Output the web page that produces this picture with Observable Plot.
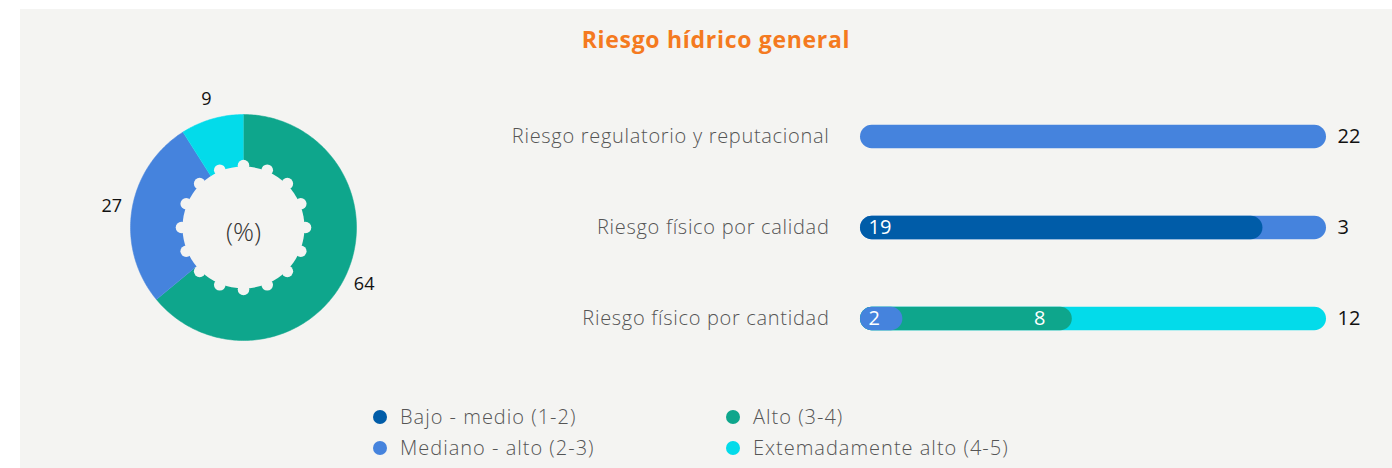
<!DOCTYPE html>
<html>
<head>
<meta charset="utf-8">
<script src="https://cdn.jsdelivr.net/npm/d3@7"></script>
<script src="https://cdn.jsdelivr.net/npm/@observablehq/plot@0.6"></script>
<style>
  body { margin: 0; background: #ffffff; }
  #wrap { position: relative; width: 1392px; height: 468px; overflow: hidden; font-family: "Open Sans", sans-serif; }
  #panel { position: absolute; left: 20px; top: 9px; width: 1372px; height: 459px; background: #f4f4f2; }
  #title { position: absolute; left: 40px; width: 1352px; top: 28px; text-align: center; font-size: 23px; font-weight: 700; letter-spacing: 0.7px; color: #f47a20; line-height: 1; }
  #donut { position: absolute; left: 72.5px; top: 77px; }
  #bars { position: absolute; left: 0; top: 0; }
  .lg { position: absolute; font-size: 20px; font-weight: 300; color: #555; line-height: 1; white-space: nowrap; letter-spacing: 1px; }
  .lg span { position: absolute; width: 14px; height: 14px; border-radius: 50%; left: -27px; top: 2.7px; }
</style>
</head>
<body>
<div id="wrap">
  <div id="panel"></div>
  <div id="title">Riesgo hídrico general</div>
  <div id="donut"></div>
  <div id="bars"></div>
  <div id="legend"></div>
</div>
<script>
// Risk levels and their colours
const levels = ["Bajo - medio (1-2)", "Mediano - alto (2-3)", "Alto (3-4)", "Extemadamente alto (4-5)"];
const levelColors = ["#005ca8", "#4583dd", "#0ea68c", "#03dbea"];

// Overall water-risk distribution (%)
const donutLevels = ["Alto (3-4)", "Mediano - alto (2-3)", "Extemadamente alto (4-5)"];
const donutShares = [64, 27, 9];

// Risk categories and their stacked segments
const risks = ["Riesgo regulatorio y reputacional", "Riesgo físico por calidad", "Riesgo físico por cantidad"];
const segRisk = [risks[0], risks[1], risks[1], risks[2], risks[2], risks[2]];
const segLevel = ["Mediano - alto (2-3)", "Bajo - medio (1-2)", "Mediano - alto (2-3)", "Mediano - alto (2-3)", "Alto (3-4)", "Extemadamente alto (4-5)"];
const segValue = [22, 19, 3, 2, 8, 12];

const bg = "#f4f4f2";
const font = "'Open Sans', sans-serif";
const color = {domain: levels, range: levelColors};

// ---------- donut ----------
const R = 113; // outer radius in px
const W = 340, H = 300;
const pie = d3.pie().sort(null).value(d => d.value)(donutLevels.map((level, i) => ({level, value: donutShares[i]})));
const slicePts = [];
for (const a of pie) {
  slicePts.push({level: a.data.level, x: 0, y: 0});
  const n = Math.max(2, Math.ceil((a.endAngle - a.startAngle) / (Math.PI / 180)));
  for (let k = 0; k <= n; k++) {
    const t = a.startAngle + (a.endAngle - a.startAngle) * k / n;
    slicePts.push({level: a.data.level, x: Math.sin(t), y: Math.cos(t)});
  }
}
// value labels sit just outside the ring, at each slice's mid-angle
const sliceLabels = pie.map(a => {
  const t = (a.startAngle + a.endAngle) / 2;
  return {x: 1.18 * Math.sin(t), y: 1.18 * Math.cos(t), text: String(a.data.value)};
});
// scalloped inner hole: a disc with 16 small round bumps
const bumps = d3.range(16).map(k => ({x: (62 / R) * Math.sin(k * Math.PI / 8), y: (62 / R) * Math.cos(k * Math.PI / 8)}));

const donut = Plot.plot({
  width: W, height: H, margin: 0,
  style: {background: "transparent", fontFamily: font},
  x: {domain: [-W / 2 / R, W / 2 / R], axis: null},
  y: {domain: [-H / 2 / R, H / 2 / R], axis: null},
  color,
  marks: [
    Plot.line(slicePts, {x: "x", y: "y", z: "level", fill: "level", stroke: "level", strokeWidth: 0.5}),
    Plot.dot([{x: 0, y: 0}], {x: "x", y: "y", r: 61, fill: bg, stroke: "none"}),
    Plot.dot(bumps, {x: "x", y: "y", r: 5.8, fill: bg, stroke: "none"}),
    Plot.text(["(%)"], {x: 0, y: -0.05, text: d => d, fontSize: 26, fontWeight: 300, fill: "#333"}),
    Plot.text(sliceLabels, {x: "x", y: "y", text: "text", fontSize: 18, fill: "#111"})
  ]
});
document.getElementById("donut").appendChild(donut);

// ---------- stacked bars ----------
const segments = [];
for (const r of risks) {
  const idx = segRisk.map((s, i) => s === r ? i : -1).filter(i => i >= 0);
  let acc = 0;
  idx.forEach((i, j) => {
    segments.push({risk: r, level: segLevel[i], value: segValue[i], start: acc, end: acc + segValue[i], first: j === 0, last: j === idx.length - 1});
    acc += segValue[i];
  });
}
// longer layers first so each rounded segment sits on top of the next one
const layered = segments.slice().sort((a, b) => b.end - a.end);
const inset = 33.75;

const bars = Plot.plot({
  width: 1392, height: 468,
  marginLeft: 860, marginRight: 66, marginTop: 0, marginBottom: 0,
  style: {background: "transparent", fontFamily: font, overflow: "visible"},
  x: {domain: [0, 22], axis: null},
  y: {domain: risks, range: [91.3, 364.3], padding: 0},
  color,
  marks: [
    Plot.barX(layered, {x1: 0, x2: "end", y: "risk", fill: "level", rx: 11.75, insetTop: inset, insetBottom: inset}),
    Plot.text(segments.filter(d => !d.last && d.first), {x: "start", y: "risk", text: "value", dx: 8, textAnchor: "start", fill: "white", fontSize: 20}),
    Plot.text(segments.filter(d => !d.last && !d.first), {x: "end", y: "risk", text: "value", dx: -27, textAnchor: "end", fill: "white", fontSize: 20}),
    Plot.text(segments.filter(d => d.last), {x: "end", y: "risk", text: "value", dx: 11, textAnchor: "start", fill: "#111", fontSize: 20}),
    Plot.axisY({tickSize: 0, tickPadding: 31, fontSize: 20, fontWeight: 300, fill: "#555", label: null})
  ]
});
document.getElementById("bars").appendChild(bars);
bars.querySelectorAll("[aria-label='y-axis tick label'] text").forEach(t => t.style.letterSpacing = "0.7px");

// ---------- legend ----------
const legendPos = [[400, 407], [400, 438], [753, 407], [753, 438]];
const legend = document.getElementById("legend");
levels.forEach((lv, i) => {
  const d = document.createElement("div");
  d.className = "lg";
  d.style.left = legendPos[i][0] + "px";
  d.style.top = legendPos[i][1] + "px";
  d.textContent = lv;
  const s = document.createElement("span");
  s.style.background = levelColors[i];
  d.prepend(s);
  legend.appendChild(d);
});
</script>
</body>
</html>
